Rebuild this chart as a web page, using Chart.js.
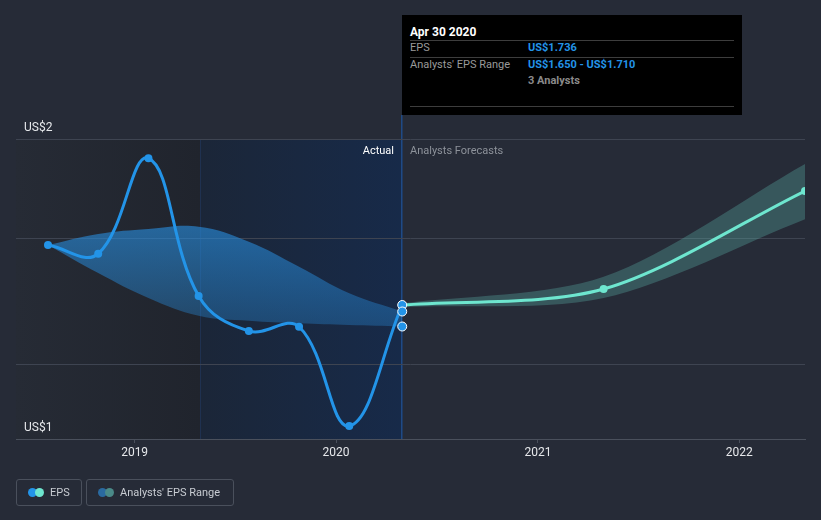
<!DOCTYPE html>
<html>
<head>
<meta charset="utf-8">
<script src="https://cdn.jsdelivr.net/npm/chart.js@4.4.1/dist/chart.umd.min.js"></script>
<style>
  body { margin: 0; background: #262b37; font-family: Roboto, sans-serif; }
  #wrap { position: relative; width: 821px; height: 520px; overflow: hidden; }
  #chart { position: absolute; left: 0; top: 0; }
  .abs { position: absolute; white-space: nowrap; }
  .tip { left: 402px; top: 15px; width: 340px; height: 100px; background: #000; }
  .tip .rule { position: absolute; left: 8px; right: 8px; height: 1px; background: #3d3d3d; }
  .tip .t { position: absolute; font-size: 11px; line-height: 14px; color: #9a9a9a; }
  .tip .v { color: #2394e8; font-weight: bold; }
  .tag { font-size: 11px; line-height: 14px; top: 144px; }
  .legend { top: 479px; height: 27px; border: 1px solid #4a505c; border-radius: 3px; box-sizing: border-box;
            color: #c8ccd2; font-size: 11px; line-height: 25px; }
  .dot { position: absolute; top: 8px; width: 9px; height: 9px; border-radius: 50%; }
</style>
</head>
<body>
<div id="wrap">
  <canvas id="chart" width="821" height="520"></canvas>

  <div class="abs tag" style="right:427px;color:#ffffff">Actual</div>
  <div class="abs tag" style="left:410px;color:#8d929a">Analysts Forecasts</div>

  <div class="abs tip">
    <div class="t" style="left:8px;top:10px;color:#fff;font-weight:bold;font-size:12px">Apr 30 2020</div>
    <div class="rule" style="top:25px"></div>
    <div class="t" style="left:8px;top:26px">EPS</div>
    <div class="t v" style="left:126px;top:26px">US$1.736</div>
    <div class="rule" style="top:42px"></div>
    <div class="t" style="left:8px;top:43px">Analysts' EPS Range</div>
    <div class="t v" style="left:126px;top:43px">US$1.650 - US$1.710</div>
    <div class="t" style="left:126px;top:59px;font-weight:bold;color:#8a8a8a">3 Analysts</div>
    <div class="rule" style="top:91px"></div>
  </div>

  <div class="abs legend" style="left:16px;width:66px">
    <span class="dot" style="left:11px;background:#2394e8"></span>
    <span class="dot" style="left:18px;background:#6ee6cf"></span>
    <span class="abs" style="left:33px">EPS</span>
  </div>
  <div class="abs legend" style="left:86px;width:148px">
    <span class="dot" style="left:11px;background:#2a6aa0"></span>
    <span class="dot" style="left:18px;background:#4a8a88"></span>
    <span class="abs" style="left:33px">Analysts' EPS Range</span>
  </div>
</div>

<script>
// reported EPS (quarterly, trailing)
const pastDates = ['2018-07-28', '2018-10-27', '2019-01-26', '2019-04-27', '2019-07-27', '2019-10-26', '2020-01-25', '2020-04-30'];
const pastEps = [1.976, 1.941, 2.323, 1.772, 1.632, 1.649, 1.252, 1.736];
const pastRangeLow = [1.976, 1.864, 1.764, 1.693, 1.673, 1.663, 1.656, 1.650];
const pastRangeHigh = [1.976, 2.020, 2.040, 2.049, 1.989, 1.889, 1.783, 1.710];

// analysts forecasts
const fcDates = ['2020-04-30', '2021-04-30', '2022-04-30'];
const fcEps = [1.736, 1.800, 2.192];
const fcLow = [1.728, 1.764, 2.079];
const fcHigh = [1.742, 1.849, 2.300];

// values shown at the hovered date
const markerValues = [1.736, 1.710, 1.650];

const xTickLabels = ['2019', '2020', '2021', '2022'];
const yTickValues = [1.2, 1.5, 2.0, 2.4];
const yTickLabels = ['US$1', '', '', 'US$2'];

const xMin = '2018-05-31';
const xMax = '2022-04-30';
const highlightStart = '2019-04-30';
const present = '2020-04-30';

const t = d => Date.parse(d);
const pts = (dates, vals) => dates.map((d, i) => ({ x: t(d), y: vals[i] }));

const BLUE = '#2394e8';
const TEAL = '#6ee6cf';

function pastBandFill(ctx) {
  const chart = ctx.chart;
  if (!chart.chartArea) return 'rgba(40,140,220,0.5)';
  const y = chart.scales.y;
  const g = chart.ctx.createLinearGradient(0, y.getPixelForValue(2.05), 0, y.getPixelForValue(1.65));
  g.addColorStop(0, 'rgba(40,140,220,0.63)');
  g.addColorStop(1, 'rgba(40,140,220,0.33)');
  return g;
}

const backdrop = {
  id: 'backdrop',
  beforeDraw(chart) {
    const { ctx, chartArea: a, scales: { x } } = chart;
    const x1 = x.getPixelForValue(t(highlightStart));
    const x2 = x.getPixelForValue(t(present));
    ctx.save();
    ctx.fillStyle = '#262b37';
    ctx.fillRect(0, 0, chart.width, chart.height);

    let g = ctx.createLinearGradient(a.left, 0, x1, 0);
    g.addColorStop(0, '#262b35');
    g.addColorStop(1, '#20242d');
    ctx.fillStyle = g;
    ctx.fillRect(a.left, a.top, x1 - a.left, a.bottom - a.top);

    g = ctx.createLinearGradient(x1, 0, x2, 0);
    g.addColorStop(0, '#1b2638');
    g.addColorStop(1, '#172a49');
    ctx.fillStyle = g;
    ctx.fillRect(x1, a.top, x2 - x1, a.bottom - a.top);

    ctx.fillStyle = '#1f3150';
    ctx.fillRect(Math.round(x1), a.top, 1, a.bottom - a.top);
    ctx.fillStyle = '#1f4a86';
    ctx.fillRect(Math.round(x2) - 1, 115, 1.5, a.bottom - 115);
    ctx.restore();
  }
};

new Chart(document.getElementById('chart'), {
  type: 'line',
  data: {
    datasets: [
      { data: pts(pastDates, pastRangeLow), borderWidth: 0, pointRadius: 0, tension: 0.4, fill: false, order: 3 },
      { data: pts(pastDates, pastRangeHigh), borderWidth: 0, pointRadius: 0, tension: 0.4, fill: '-1',
        backgroundColor: pastBandFill, order: 3 },
      { data: pts(fcDates, fcLow), borderWidth: 0, pointRadius: 0, tension: 0.3, fill: false, order: 3 },
      { data: pts(fcDates, fcHigh), borderWidth: 0, pointRadius: 0, tension: 0.3, fill: '-1',
        backgroundColor: 'rgba(95,190,180,0.3)', order: 3 },
      { label: 'EPS', data: pts(pastDates, pastEps), borderColor: BLUE, borderWidth: 3, tension: 0.4,
        pointRadius: 4, pointBackgroundColor: BLUE, pointBorderWidth: 0, fill: false, order: 2 },
      { label: 'EPS forecast', data: pts(fcDates, fcEps), borderColor: TEAL, borderWidth: 3, tension: 0.3,
        pointRadius: [0, 4, 4], pointBackgroundColor: TEAL, pointBorderWidth: 0, fill: false, order: 2 },
      { data: markerValues.map(v => ({ x: t(present), y: v })), showLine: false,
        pointRadius: 4.5, pointBackgroundColor: BLUE, pointBorderColor: '#ffffff', pointBorderWidth: 1, order: 1 }
    ]
  },
  options: {
    responsive: false,
    animation: false,
    events: [],
    layout: { padding: { left: 16, right: 16, top: 139, bottom: 0 } },
    plugins: { legend: { display: false }, tooltip: { enabled: false } },
    scales: {
      x: {
        type: 'linear',
        min: t(xMin),
        max: t(xMax),
        afterBuildTicks: s => { s.ticks = xTickLabels.map(y => ({ value: Date.UTC(+y, 0, 1) })); },
        afterFit: s => { s.height = 81; },
        grid: { drawOnChartArea: false, color: '#4a505c', tickLength: 4 },
        border: { color: '#4a505c' },
        ticks: {
          color: '#e6e8eb', font: { family: 'Roboto', size: 12 }, padding: 3, maxRotation: 0,
          callback: v => String(new Date(v).getUTCFullYear())
        }
      },
      y: {
        min: 1.2,
        max: 2.4,
        afterBuildTicks: s => { s.ticks = yTickValues.map(v => ({ value: v })); },
        afterFit: s => { s.width = 0; },
        grid: { color: '#3e4451', drawTicks: false },
        border: { display: false },
        ticks: {
          mirror: true, padding: 8, labelOffset: -11,
          color: '#e6e8eb', font: { family: 'Roboto', size: 12 },
          callback: v => yTickLabels[yTickValues.indexOf(v)] || ''
        }
      }
    }
  },
  plugins: [backdrop]
});
</script>
</body>
</html>
